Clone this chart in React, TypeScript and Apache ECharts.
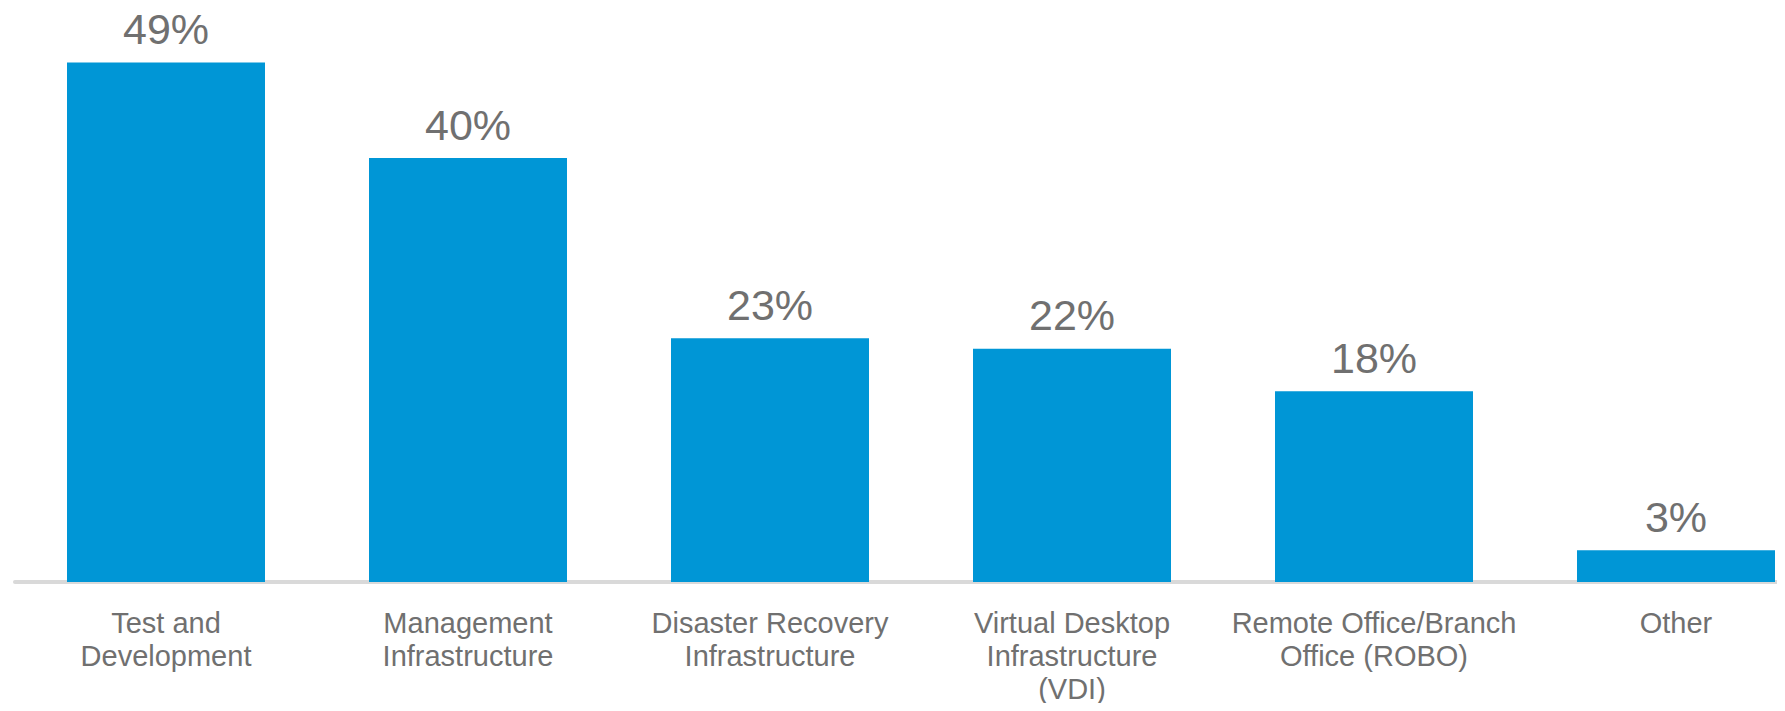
import React, { useEffect, useRef } from "react";
import * as echarts from "echarts";

const categories = [
  "Test and\nDevelopment",
  "Management\nInfrastructure",
  "Disaster Recovery\nInfrastructure",
  "Virtual Desktop\nInfrastructure\n(VDI)",
  "Remote Office/Branch\nOffice (ROBO)",
  "Other",
];
const values = [49, 40, 23, 22, 18, 3];

const FONT = "'Liberation Sans', Arial, Helvetica, sans-serif";

export default function App() {
  const ref = useRef<HTMLDivElement>(null);
  useEffect(() => {
    if (!ref.current) return;
    const chart = echarts.init(ref.current, null, { renderer: "svg" });
    chart.setOption({
      animation: false,
      backgroundColor: "#ffffff",
      grid: {
        left: 15,
        top: 52,
        width: 1812,
        bottom: 129,
        containLabel: false,
        outerBoundsMode: "none",
      },
      xAxis: {
        type: "category",
        data: categories,
        axisLine: { show: true, lineStyle: { color: "#d9d9d9", width: 4 } },
        axisTick: { show: false },
        axisLabel: {
          interval: 0,
          margin: 24,
          color: "#707070",
          fontSize: 29,
          lineHeight: 33,
          fontFamily: FONT,
          align: "center",
        },
      },
      yAxis: {
        type: "value",
        min: 0,
        max: 50,
        show: false,
        splitLine: { show: false },
      },
      series: [
        {
          type: "bar",
          data: values,
          barWidth: 198,
          itemStyle: { color: "#0096D6" },
          label: {
            show: true,
            position: "top",
            distance: 12,
            formatter: (p: any) => `${p.value}%`,
            color: "#707070",
            fontSize: 43,
            fontFamily: FONT,
          },
        },
      ],
    });
    return () => chart.dispose();
  }, []);
  return <div ref={ref} style={{ width: 1785, height: 711, margin: -8 }} />;
}
